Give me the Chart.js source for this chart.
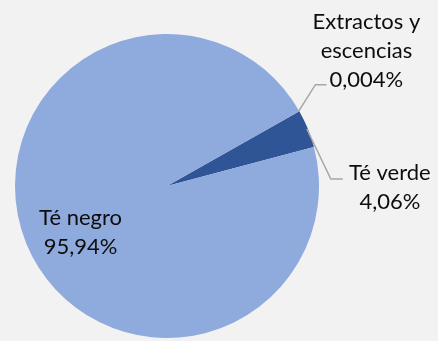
<!DOCTYPE html>
<html>
<head>
<meta charset="utf-8">
<script src="https://cdn.jsdelivr.net/npm/chart.js@4.4.0/dist/chart.umd.min.js"></script>
<style>
    html, body { margin: 0; padding: 0; background: #f2f2f2; }
    #wrap { width: 438px; height: 341px; position: relative; }
</style>
</head>
<body>
<div id="wrap"><canvas id="chartTe" width="438" height="341"></canvas></div>
<script>
// ===== DATA =====
const categories = ["Extractos y escencias", "Té verde", "Té negro"];
const categoryLines = [["Extractos y", "escencias"], ["Té verde"], ["Té negro"]];
const shares = [0.004, 4.06, 95.94];
const colors = ["#2f5597", "#2f5597", "#8faadc"];

// label placement (style only)
const labelStyle = [
    { mode: "outside", at: "start", elbow: [17, -27], run: 11, tx: 40, ty: -56 },
    { mode: "outside", at: "mid", elbow: [24, 50], run: 12, tx: 47, ty: 1 },
    { mode: "inside", frac: 0.6, dx: -2, dy: 12 }
];

const FONT = "22px Lato";
const LINE_H = 29;

function fmt(v) {
    return String(v).replace(".", ",") + "%";
}

const labelPlugin = {
    id: "teLabels",
    afterDatasetsDraw(chart) {
        const ctx = chart.ctx;
        const meta = chart.getDatasetMeta(0);
        ctx.save();
        ctx.font = FONT;
        ctx.fillStyle = "#0d0d0d";
        ctx.textAlign = "center";
        ctx.textBaseline = "alphabetic";
        meta.data.forEach((arc, i) => {
            const st = labelStyle[i];
            const lines = categoryLines[i].concat([fmt(shares[i])]);
            const p = arc.getProps(["x", "y", "startAngle", "endAngle", "outerRadius"], true);
            if (st.mode === "inside") {
                const mid = (p.startAngle + p.endAngle) / 2;
                const cx = p.x + Math.cos(mid) * p.outerRadius * st.frac + st.dx;
                const cy = p.y + Math.sin(mid) * p.outerRadius * st.frac + st.dy;
                const first = cy - (lines.length - 1) * LINE_H / 2 + 7;
                lines.forEach((t, k) => ctx.fillText(t, cx, first + k * LINE_H));
            } else {
                const ang = st.at === "start" ? p.startAngle : (p.startAngle + p.endAngle) / 2;
                const sx = p.x + Math.cos(ang) * (p.outerRadius - 1);
                const sy = p.y + Math.sin(ang) * (p.outerRadius - 1);
                const ex = sx + st.elbow[0];
                const ey = sy + st.elbow[1];
                const hx = ex + st.run;
                ctx.strokeStyle = "#a6a6a6";
                ctx.lineWidth = 1.5;
                ctx.beginPath();
                ctx.moveTo(sx, sy);
                ctx.lineTo(ex, ey);
                ctx.lineTo(hx, ey);
                ctx.stroke();
                lines.forEach((t, k) => ctx.fillText(t, hx + st.tx, ey + st.ty + k * LINE_H));
            }
        });
        ctx.restore();
    }
};

new Chart(document.getElementById("chartTe"), {
    type: "pie",
    data: {
        labels: categories,
        datasets: [{
            data: shares,
            backgroundColor: colors,
            borderWidth: 0
        }]
    },
    options: {
        responsive: false,
        animation: false,
        rotation: 60.5,
        layout: { padding: { left: 15, top: 34, right: 119, bottom: 3 } },
        plugins: {
            legend: { display: false },
            tooltip: { enabled: false }
        }
    },
    plugins: [labelPlugin]
});
</script>
</body>
</html>
